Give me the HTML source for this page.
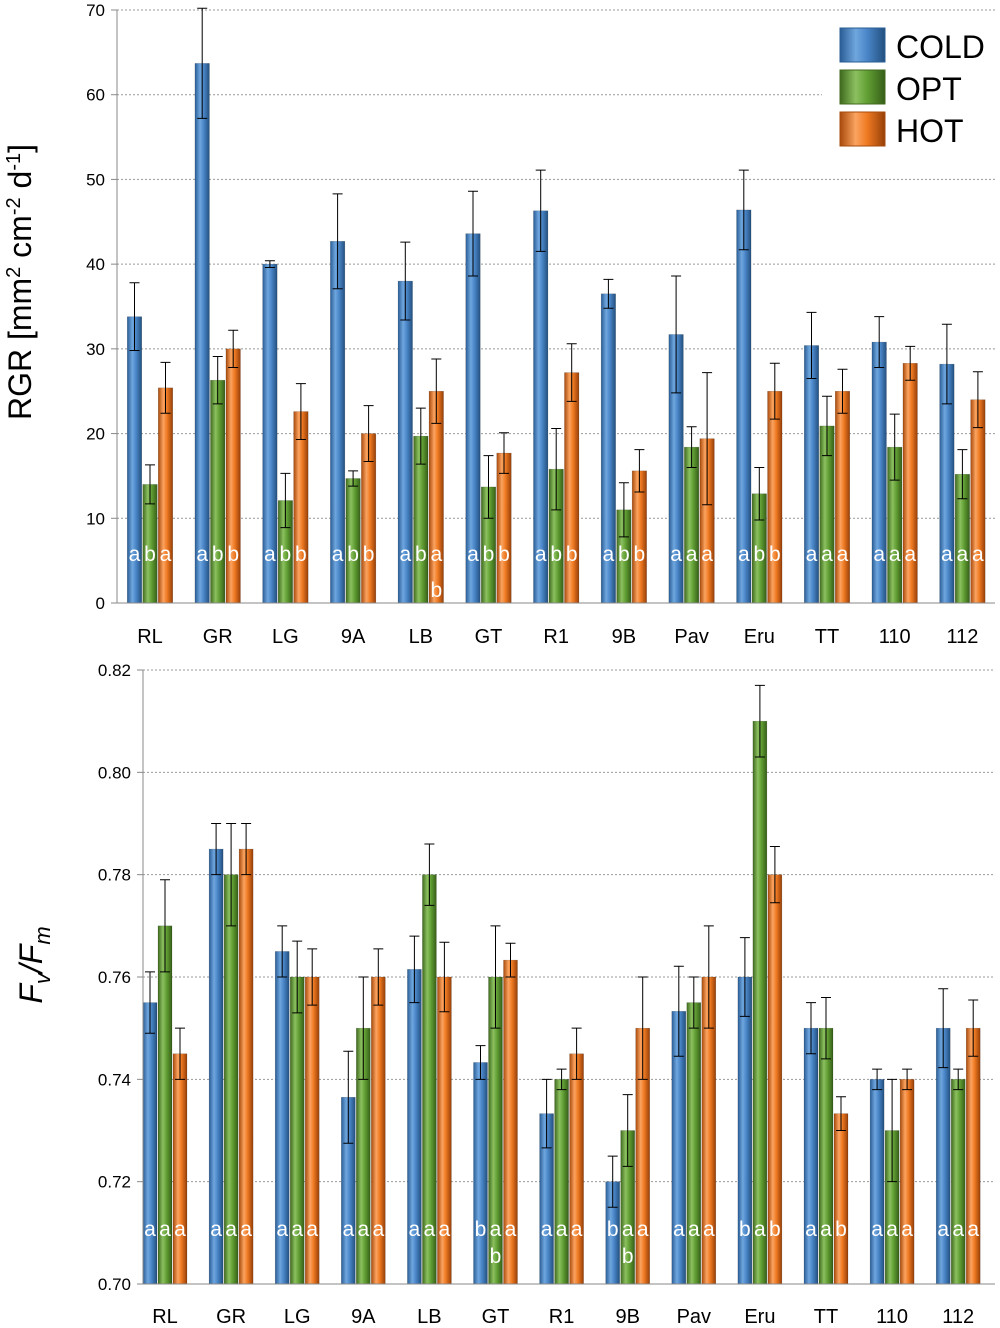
<!DOCTYPE html>
<html><head><meta charset="utf-8"><style>
body{margin:0;background:#fff;position:relative}
svg{display:block;font-family:"Liberation Sans",sans-serif;}
</style></head><body>
<svg id="c" width="1000" height="1328">
<defs>
<linearGradient id="gb" x1="0" x2="1"><stop offset="0" stop-color="#2a5d96"/><stop offset="0.35" stop-color="#6fa6de"/><stop offset="0.6" stop-color="#4a86c8"/><stop offset="1" stop-color="#23507f"/></linearGradient>
<linearGradient id="gg" x1="0" x2="1"><stop offset="0" stop-color="#3f6a1e"/><stop offset="0.35" stop-color="#8cc060"/><stop offset="0.6" stop-color="#62a034"/><stop offset="1" stop-color="#365e18"/></linearGradient>
<linearGradient id="go" x1="0" x2="1"><stop offset="0" stop-color="#a84a0c"/><stop offset="0.35" stop-color="#fba360"/><stop offset="0.6" stop-color="#ef7a22"/><stop offset="1" stop-color="#963f08"/></linearGradient>
</defs>
</svg>
<script>
const categories=["RL","GR","LG","9A","LB","GT","R1","9B","Pav","Eru","TT","110","112"];
const rgrCold=[33.8,63.7,40,42.7,38,43.6,46.3,36.5,31.7,46.4,30.4,30.8,28.2];
const rgrColdErr=[4,6.5,0.4,5.6,4.6,5,4.8,1.7,6.9,4.7,3.9,3,4.7];
const rgrOpt=[14,26.3,12.1,14.7,19.7,13.7,15.8,11,18.4,12.9,20.9,18.4,15.2];
const rgrOptErr=[2.3,2.8,3.2,0.9,3.3,3.7,4.8,3.2,2.4,3.1,3.5,3.9,2.9];
const rgrHot=[25.4,30,22.6,20,25,17.7,27.2,15.6,19.4,25,25,28.3,24];
const rgrHotErr=[3,2.2,3.3,3.3,3.8,2.4,3.4,2.5,7.8,3.3,2.6,2,3.3];
const rgrLetters=["aba","abb","abb","abb","aba","abb","abb","abb","aaa","abb","aaa","aaa","aaa"];
const fvCold=[0.755,0.785,0.765,0.7365,0.7615,0.7433,0.7333,0.720,0.7533,0.760,0.750,0.740,0.750];
const fvColdErr=[0.006,0.005,0.005,0.009,0.0065,0.0033,0.0067,0.005,0.0088,0.0077,0.005,0.002,0.0077];
const fvOpt=[0.770,0.780,0.760,0.750,0.780,0.760,0.740,0.730,0.755,0.810,0.750,0.730,0.740];
const fvOptErr=[0.009,0.01,0.007,0.01,0.006,0.01,0.002,0.007,0.005,0.007,0.006,0.01,0.002];
const fvHot=[0.745,0.785,0.760,0.760,0.760,0.7633,0.745,0.750,0.760,0.780,0.7333,0.740,0.750];
const fvHotErr=[0.005,0.005,0.0055,0.0055,0.0068,0.0033,0.005,0.01,0.01,0.0055,0.0033,0.002,0.0055];
const fvLetters=["aaa","aaa","aaa","aaa","aaa","baa","aaa","baa","aaa","bab","aab","aaa","aaa"];
const rgrTicks=[0,10,20,30,40,50,60,70];
const fvTicks=[0.70,0.72,0.74,0.76,0.78,0.80,0.82];

const svg=document.getElementById('c');
const NS='http://www.w3.org/2000/svg';
function mk(t,a,txt){const e=document.createElementNS(NS,t);for(const k in a)e.setAttribute(k,a[k]);if(txt!==undefined)e.textContent=txt;svg.appendChild(e);return e;}

function panel(cfg){
  const y=v=>cfg.y0+(v-cfg.vmin)/(cfg.vmax-cfg.vmin)*(cfg.y1-cfg.y0);
  const xc=i=>cfg.xFirst+i*cfg.step;
  cfg.ticks.forEach(t=>{
    const g=mk('line',{x1:cfg.ax,x2:(cfg.gridEnd&&t===cfg.gridEndTick)?cfg.gridEnd:995,y1:y(t),y2:y(t),stroke:'#999','stroke-dasharray':'2,2','stroke-width':1});
    
    
    const l=mk('text',{x:cfg.ax-12,y:y(t)+6,'text-anchor':'end','font-size':17,fill:'#000'},cfg.fmt(t));
    
    
    const tk=mk('line',{x1:cfg.ax-6,x2:cfg.ax,y1:y(t),y2:y(t),stroke:'#888'});
    
    
  });
  const series=[[cfg.c,cfg.ce,'url(#gb)','cold'],[cfg.o,cfg.oe,'url(#gg)','opt'],[cfg.h,cfg.he,'url(#go)','hot']];
  categories.forEach((cat,i)=>{
    series.forEach((s,j)=>{
      const cx=xc(i)+(j-1)*cfg.bw, v=s[0][i], e=s[1][i];
      const b=mk('rect',{x:cx-cfg.bw/2+0.5,y:y(v),width:cfg.bw-1,height:cfg.y0-y(v),fill:s[2],stroke:'rgba(0,0,0,0.25)','stroke-width':0.5});
      
      
      const eb=mk('path',{d:`M${cx},${y(v-e)}V${y(v+e)}M${cx-5},${y(v+e)}H${cx+5}M${cx-5},${y(v-e)}H${cx+5}`,stroke:'#000','stroke-width':1,fill:'none'});
      
      
    });
    const lt=cfg.letters[i];
    for(let j=0;j<3;j++){
      const t=mk('text',{x:xc(i)+(j-1)*cfg.bw,y:cfg.letY,'text-anchor':'middle','font-size':21,fill:'#fff'},lt[j]);
      
      
    }
    const xl=mk('text',{x:xc(i),y:cfg.labY,'text-anchor':'middle','font-size':20,fill:'#000'},cat);
    
    
  });
  cfg.extra.forEach(([i,j])=>{
    const t=mk('text',{x:xc(i)+(j-1)*cfg.bw,y:cfg.letY+cfg.extraDy,'text-anchor':'middle','font-size':21,fill:'#fff'},'b');
    
    
  });
  const a=mk('line',{x1:cfg.ax,x2:cfg.ax,y1:cfg.y1,y2:cfg.y0,stroke:'#888'});
  
  
  const xa=mk('line',{x1:cfg.ax,x2:995,y1:cfg.y0,y2:cfg.y0,stroke:'#888'});
  
  
}
panel({y0:603,y1:10,vmin:0,vmax:70,ax:117,xFirst:150,step:67.7,bw:15.5,ticks:rgrTicks,fmt:t=>String(t),
  c:rgrCold,ce:rgrColdErr,o:rgrOpt,oe:rgrOptErr,h:rgrHot,he:rgrHotErr,letters:rgrLetters,letY:561,labY:643,extra:[[4,2]],extraDy:36,gridEnd:822,gridEndTick:60});
panel({y0:1284,y1:670,vmin:0.70,vmax:0.82,ax:143,xFirst:165,step:66.1,bw:15,ticks:fvTicks,fmt:t=>t.toFixed(2),
  c:fvCold,ce:fvColdErr,o:fvOpt,oe:fvOptErr,h:fvHot,he:fvHotErr,letters:fvLetters,letY:1236,labY:1323,extra:[[5,1],[7,1]],extraDy:27});
</script>
<svg style="position:absolute;left:0;top:0" width="1000" height="1328">
<rect x="822" y="20" width="175" height="135" fill="#fff"/>
<g>
<rect x="840" y="28" width="45" height="34" fill="url(#gb)" stroke="#2a5d96"/>
<text x="896" y="58" font-size="32" font-family="Liberation Sans,sans-serif">COLD</text>
<rect x="840" y="70" width="45" height="34" fill="url(#gg)" stroke="#3f6a1e"/>
<text x="896" y="100" font-size="32" font-family="Liberation Sans,sans-serif">OPT</text>
<rect x="840" y="112" width="45" height="34" fill="url(#go)" stroke="#a84a0c"/>
<text x="896" y="142" font-size="32" font-family="Liberation Sans,sans-serif">HOT</text>
</g>
<text transform="translate(31,282) rotate(-90)" text-anchor="middle" font-size="32" font-family="Liberation Sans,sans-serif">RGR [mm<tspan dy="-11" font-size="20">2</tspan><tspan dy="11"> cm</tspan><tspan dy="-11" font-size="20">-2</tspan><tspan dy="11"> d</tspan><tspan dy="-11" font-size="20">-1</tspan><tspan dy="11">]</tspan></text>
<text transform="translate(42,965) rotate(-90)" text-anchor="middle" font-size="32" font-style="italic" font-family="Liberation Sans,sans-serif">F<tspan dy="8" font-size="22">v</tspan><tspan dy="-8">/F</tspan><tspan dy="8" font-size="22">m</tspan></text>
</svg>
</body></html>
